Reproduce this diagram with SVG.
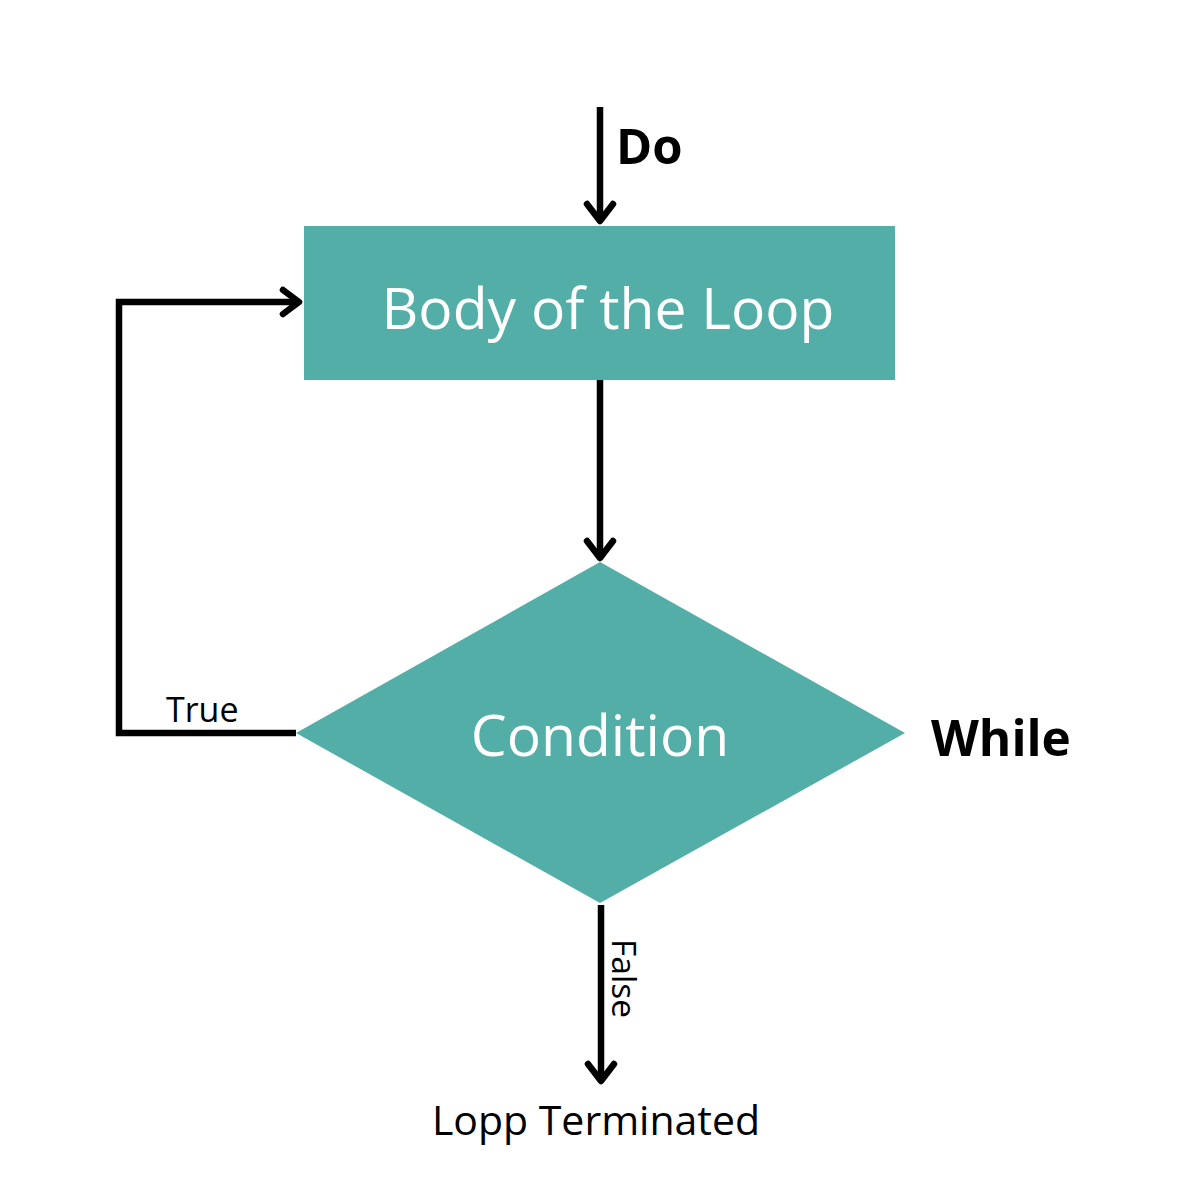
<svg xmlns="http://www.w3.org/2000/svg" width="1200" height="1200" viewBox="0 0 1200 1200">
<style>
.shape{fill:#53aea8}
.wt{fill:#ffffff;font-family:"Open Sans","Noto Sans",sans-serif;font-size:57px;text-anchor:middle}
.lbl{fill:#000;font-family:"Open Sans","Noto Sans",sans-serif}
.line{fill:none;stroke:#000;stroke-width:6.5;stroke-linejoin:miter}
.head{fill:none;stroke:#000;stroke-width:6.5;stroke-linecap:round;stroke-linejoin:round}
</style>
<rect width="1200" height="1200" fill="#ffffff"/>
<g id="body">
<rect class="shape" x="304" y="226" width="591" height="154"/>
<text class="wt" x="608" y="329">Body of the Loop</text>
</g>
<g id="condition">
<polygon class="shape" points="600,562 905,733 600,903 296,733"/>
<text class="wt" x="600" y="756">Condition</text>
</g>
<g id="terminated">
<text class="lbl" x="596" y="1135" font-size="41" text-anchor="middle">Lopp Terminated</text>
</g>
<g id="connectors">
<line class="line" x1="600" y1="107" x2="600" y2="220"/>
<polyline class="head" points="587,204 600,221 613,204"/>
<line class="line" x1="600" y1="380" x2="600" y2="557"/>
<polyline class="head" points="587,541 600,558 613,541"/>
<polyline class="line" points="296,733 119,733 119,302 298,302"/>
<polyline class="head" points="283,290 299,302 283,314"/>
<line class="line" x1="601" y1="905" x2="601" y2="1080"/>
<polyline class="head" points="588,1064 601,1081 614,1064"/>
<text class="lbl" x="616" y="164" font-size="49" font-weight="bold">Do</text>
<text class="lbl" x="931" y="756" font-size="49.5" font-weight="bold">While</text>
<text class="lbl" x="166" y="722" font-size="34">True</text>
<text class="lbl" font-size="33.5" transform="translate(612,939) rotate(90)">False</text>
</g>
</svg>
